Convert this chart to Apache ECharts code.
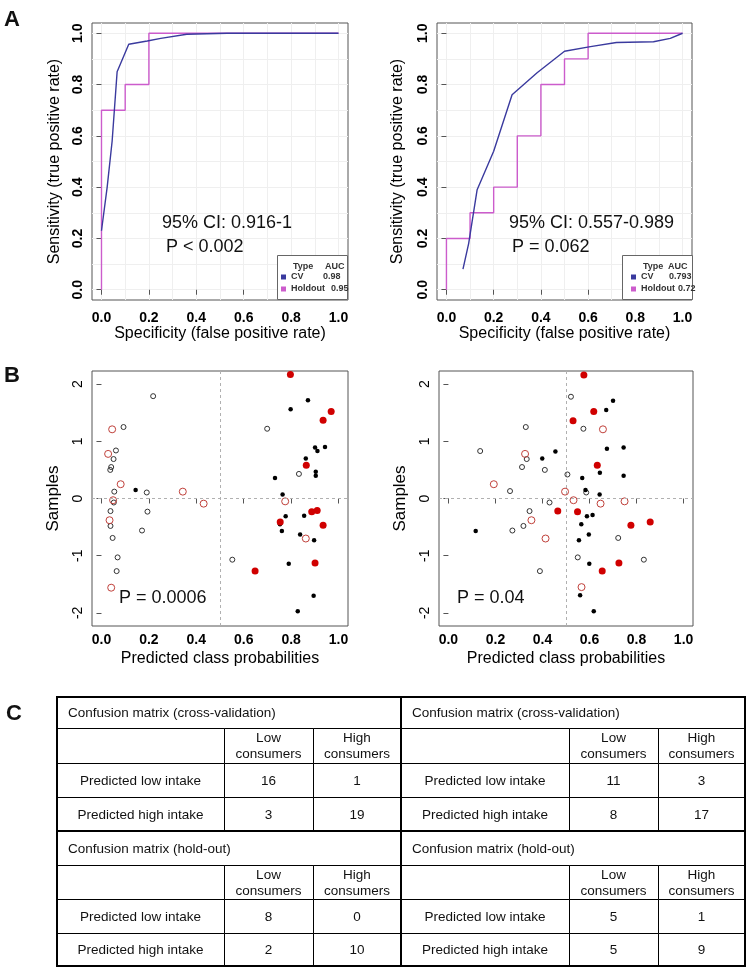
<!DOCTYPE html>
<html>
<head>
<meta charset="utf-8">
<script src="https://cdn.jsdelivr.net/npm/echarts@6/dist/echarts.min.js"></script>
<style>
  html, body { margin: 0; padding: 0; background: #fff; }
  #chart { width: 752px; height: 973px; }
</style>
</head>
<body>
<div id="chart"></div>
<script>
// ---- A: ROC curves, [false positive rate, true positive rate]
var rocCvLeft = [[0, 0.23], [0.024, 0.40], [0.045, 0.58], [0.066, 0.85], [0.115, 0.957], [0.193, 0.97], [0.25, 0.98], [0.36, 0.996], [0.53, 1.0], [1.0, 1.0]];
var rocHoldLeft = [[0, 0], [0, 0.7], [0.1, 0.7], [0.1, 0.8], [0.2, 0.8], [0.2, 1.0], [1.0, 1.0]];
var rocCvRight = [[0.07, 0.08], [0.094, 0.18], [0.13, 0.39], [0.2, 0.54], [0.278, 0.76], [0.384, 0.846], [0.5, 0.93], [0.61, 0.948], [0.72, 0.964], [0.877, 0.967], [0.948, 0.98], [1.0, 1.0]];
var rocHoldRight = [[0, 0], [0, 0.2], [0.1, 0.2], [0.1, 0.3], [0.2, 0.3], [0.2, 0.4], [0.3, 0.4], [0.3, 0.6], [0.4, 0.6], [0.4, 0.8], [0.5, 0.8], [0.5, 0.9], [0.6, 0.9], [0.6, 1.0], [1.0, 1.0]];
var aucLeft = ['0.98', '0.95'];
var aucRight = ['0.793', '0.72'];
var rocTicks = [0, 0.2, 0.4, 0.6, 0.8, 1.0];
var rocGrid = [0, 0.1, 0.2, 0.3, 0.4, 0.5, 0.6, 0.7, 0.8, 0.9, 1.0];

// ---- B: predicted class probability vs sample jitter
var openBlackL = [[0.218, 1.79], [0.093, 1.25], [0.061, 0.84], [0.051, 0.69], [0.041, 0.55], [0.037, 0.50], [0.054, 0.12], [0.191, 0.105], [0.052, -0.07], [0.038, -0.22], [0.194, -0.23], [0.038, -0.48], [0.171, -0.56], [0.047, -0.69], [0.068, -1.03], [0.064, -1.27], [0.699, 1.22], [0.833, 0.43], [0.552, -1.07]];
var openRedL = [[0.045, 1.21], [0.028, 0.78], [0.081, 0.25], [0.049, -0.03], [0.034, -0.38], [0.041, -1.56], [0.343, 0.12], [0.431, -0.09], [0.775, -0.05], [0.862, -0.70]];
var filledBlackL = [[0.144, 0.15], [0.871, 1.72], [0.798, 1.56], [0.901, 0.89], [0.911, 0.83], [0.943, 0.90], [0.862, 0.70], [0.904, 0.47], [0.904, 0.40], [0.732, 0.36], [0.764, 0.07], [0.777, -0.31], [0.855, -0.30], [0.753, -0.45], [0.761, -0.57], [0.838, -0.63], [0.897, -0.73], [0.79, -1.14], [0.895, -1.70], [0.828, -1.97]];
var filledRedL = [[0.797, 2.17], [0.969, 1.52], [0.935, 1.37], [0.864, 0.58], [0.887, -0.23], [0.91, -0.21], [0.754, -0.41], [0.935, -0.47], [0.901, -1.13], [0.648, -1.27]];

var openBlackR = [[0.521, 1.78], [0.329, 1.25], [0.574, 1.22], [0.135, 0.83], [0.333, 0.69], [0.313, 0.55], [0.41, 0.50], [0.506, 0.42], [0.262, 0.13], [0.586, 0.105], [0.43, -0.07], [0.345, -0.22], [0.319, -0.48], [0.272, -0.56], [0.722, -0.69], [0.55, -1.03], [0.831, -1.07], [0.389, -1.27]];
var openRedR = [[0.657, 1.21], [0.326, 0.78], [0.193, 0.25], [0.496, 0.12], [0.532, -0.03], [0.647, -0.09], [0.749, -0.05], [0.353, -0.38], [0.413, -0.70], [0.566, -1.55]];
var filledBlackR = [[0.70, 1.71], [0.671, 1.55], [0.455, 0.82], [0.674, 0.87], [0.745, 0.89], [0.399, 0.70], [0.644, 0.45], [0.745, 0.40], [0.569, 0.36], [0.583, 0.15], [0.643, 0.07], [0.589, -0.31], [0.613, -0.29], [0.565, -0.45], [0.597, -0.63], [0.555, -0.73], [0.116, -0.57], [0.599, -1.14], [0.56, -1.69], [0.618, -1.97]];
var filledRedR = [[0.576, 2.16], [0.618, 1.52], [0.53, 1.36], [0.633, 0.58], [0.465, -0.22], [0.549, -0.23], [0.776, -0.47], [0.858, -0.41], [0.725, -1.13], [0.654, -1.27]];
var probTicks = [0, 0.2, 0.4, 0.6, 0.8, 1.0];
var sampleTicks = [-2, -1, 0, 1, 2];
var cutoffX = 0.5;
var cutoffY = 0;

// ---- C: confusion matrices
var matrixTitles = ['Confusion matrix (cross-validation)', 'Confusion matrix (hold-out)'];
var colLabels = ['Low\nconsumers', 'High\nconsumers'];
var rowLabels = ['Predicted low intake', 'Predicted high intake'];
var cvLeft = [[16, 1], [3, 19]];
var holdLeft = [[8, 0], [2, 10]];
var cvRight = [[11, 3], [8, 17]];
var holdRight = [[5, 1], [5, 9]];

var FONT = '"Liberation Sans", Arial, sans-serif';
var BLUE = '#3a3a9e';
var MAGENTA = '#cc5ccc';

// table layout (px)
var colW = [167, 89, 88, 168, 89, 87];
var rowH = [31, 35, 34, 34, 34, 34, 34, 33];
var colEdge = [0], rowEdge = [0];
colW.forEach(function (w) { colEdge.push(colEdge[colEdge.length - 1] + w); });
rowH.forEach(function (h) { rowEdge.push(rowEdge[rowEdge.length - 1] + h); });

var cells = [];
function addBlock(bx, by, title, m) {
  var c = bx * 3, r = by * 4;
  cells.push({ c0: c, c1: c + 3, r0: r, r1: r + 1, text: title, left: true });
  cells.push({ c0: c, c1: c + 1, r0: r + 1, r1: r + 2, text: '' });
  cells.push({ c0: c + 1, c1: c + 2, r0: r + 1, r1: r + 2, text: colLabels[0] });
  cells.push({ c0: c + 2, c1: c + 3, r0: r + 1, r1: r + 2, text: colLabels[1] });
  for (var i = 0; i < 2; i++) {
    cells.push({ c0: c, c1: c + 1, r0: r + 2 + i, r1: r + 3 + i, text: rowLabels[i] });
    cells.push({ c0: c + 1, c1: c + 2, r0: r + 2 + i, r1: r + 3 + i, text: String(m[i][0]) });
    cells.push({ c0: c + 2, c1: c + 3, r0: r + 2 + i, r1: r + 3 + i, text: String(m[i][1]) });
  }
}
addBlock(0, 0, matrixTitles[0], cvLeft);
addBlock(1, 0, matrixTitles[0], cvRight);
addBlock(0, 1, matrixTitles[1], holdLeft);
addBlock(1, 1, matrixTitles[1], holdRight);
var frames = [[0, 3, 0, 4], [3, 6, 0, 4], [0, 3, 4, 8], [3, 6, 4, 8]];
frames.forEach(function (f) { cells.push({ c0: f[0], c1: f[1], r0: f[2], r1: f[3], frame: true }); });

function renderCell(params, api) {
  var cell = cells[params.dataIndex];
  var p0 = api.coord([api.value(0), api.value(2)]);
  var p1 = api.coord([api.value(1), api.value(3)]);
  var x = Math.round(Math.min(p0[0], p1[0]));
  var y = Math.round(Math.min(p0[1], p1[1]));
  var w = Math.round(Math.abs(p1[0] - p0[0]));
  var h = Math.round(Math.abs(p1[1] - p0[1]));
  if (cell.frame) {
    return { type: 'rect', z2: 20, shape: { x: x, y: y, width: w, height: h },
      style: { fill: 'none', stroke: '#000', lineWidth: 2 } };
  }
  return {
    type: 'group',
    children: [
      { type: 'rect', shape: { x: x + 0.5, y: y + 0.5, width: w, height: h },
        style: { fill: '#fff', stroke: '#000', lineWidth: 1 } },
      { type: 'text', z2: 5, style: {
          text: cell.text,
          x: cell.left ? x + 11 : x + w / 2,
          y: y + h / 2 + 1,
          align: cell.left ? 'left' : 'center',
          verticalAlign: 'middle',
          fontFamily: FONT, fontSize: 13.5, lineHeight: 16, fill: '#111'
        } }
    ]
  };
}

function mainAxis(gridIndex, min, max, ticks, name, nameGap, labelWeight, margin, digits, isY) {
  var ax = {
    type: 'value', gridIndex: gridIndex, min: min, max: max,
    position: isY ? 'left' : 'bottom',
    axisLine: { show: false },
    axisTick: { show: true, length: 5, lineStyle: { color: '#555' }, customValues: ticks },
    axisLabel: {
      customValues: ticks, margin: margin, color: '#000', fontFamily: FONT,
      fontSize: 14, fontWeight: labelWeight,
      formatter: function (v) { return digits ? v.toFixed(1) : String(Math.round(v)); }
    },
    splitLine: { show: false },
    name: name, nameLocation: 'middle', nameGap: nameGap,
    nameTextStyle: { color: '#000', fontFamily: FONT, fontSize: isY && !digits ? 17 : 16 }
  };
  if (isY) { ax.axisLabel.rotate = 90; ax.nameRotate = 90; }
  return ax;
}
function gridAxis(gridIndex, isY) {
  return {
    type: 'value', gridIndex: gridIndex, min: -0.04, max: 1.04,
    position: isY ? 'left' : 'bottom',
    axisLine: { show: false },
    axisTick: { show: false, customValues: rocGrid },
    axisLabel: { show: false, customValues: rocGrid },
    splitLine: { show: true, lineStyle: { color: '#efefef', width: 1 } }
  };
}

function rocSeries(name, data, color, xi, z) {
  return { type: 'line', name: name, data: data, xAxisIndex: xi, yAxisIndex: xi,
    showSymbol: false, symbol: 'none', silent: true, z: z,
    lineStyle: { color: color, width: 1.4 }, itemStyle: { color: color } };
}
function dots(data, xi, size, fill, stroke, marks) {
  var s = { type: 'scatter', data: data, xAxisIndex: xi, yAxisIndex: xi, symbol: 'circle',
    symbolSize: size, silent: true,
    itemStyle: { color: fill, borderColor: stroke, borderWidth: stroke ? 1 : 0, opacity: 1 } };
  if (marks) {
    s.markLine = { silent: true, symbol: 'none', label: { show: false },
      lineStyle: { color: '#b0b0b0', type: [3, 3], width: 1 },
      data: [{ xAxis: cutoffX }, { yAxis: cutoffY }] };
  }
  return s;
}
var legendText = { fontFamily: FONT, fontWeight: 'bold', fontSize: 9, color: '#333' };
function legendFor(left, auc, wc, wh) {
  return {
    left: left, top: 271, orient: 'vertical', itemWidth: 5, itemHeight: 5, itemGap: 0,
    icon: 'rect', selectedMode: false, z: 60, padding: 0,
    data: ['CV', 'Holdout'],
    formatter: function (n) {
      return (n === 'CV' ? '{c|CV}{v|' + auc[0] + '}' : '{h|Holdout}{v|' + auc[1] + '}');
    },
    textStyle: Object.assign({
      lineHeight: 12,
      rich: {
        c: Object.assign({ width: wc }, legendText),
        h: Object.assign({ width: wh }, legendText),
        v: Object.assign({}, legendText)
      }
    }, legendText)
  };
}

function txt(x, y, s, size, weight) {
  return { type: 'text', x: x, y: y, z: 55, silent: true,
    style: { text: s, fontFamily: FONT, fontSize: size, fontWeight: weight || 'normal',
      fill: '#111', verticalAlign: 'middle', align: 'left' } };
}
function legendBox(x, w, typeX, aucX) {
  return [
    { type: 'rect', z: 50, silent: true, shape: { x: x + 0.5, y: 255.5, width: w, height: 44 },
      style: { fill: '#fff', stroke: '#666', lineWidth: 1 } },
    { type: 'text', z: 55, x: typeX, y: 267, silent: true,
      style: { text: 'Type', font: 'bold 9px "Liberation Sans", Arial, sans-serif', fill: '#333', verticalAlign: 'middle' } },
    { type: 'text', z: 55, x: aucX, y: 267, silent: true,
      style: { text: 'AUC', font: 'bold 9px "Liberation Sans", Arial, sans-serif', fill: '#333', verticalAlign: 'middle' } }
  ];
}

var frameGrid = { show: true, borderColor: '#555', borderWidth: 1, backgroundColor: 'rgba(0,0,0,0)', outerBoundsMode: 'none', containLabel: false };
function g(l, t, w, h) { return Object.assign({ left: l, top: t, width: w, height: h }, frameGrid); }

var chart = echarts.init(document.getElementById('chart'));
chart.setOption({
  animation: false,
  backgroundColor: '#fff',
  textStyle: { fontFamily: FONT },
  grid: [
    g(92, 23, 256, 277),
    g(437, 23, 255, 277),
    g(92, 371, 256, 255),
    g(439, 371, 254, 255),
    { left: 57, top: 697, width: 688, height: 269, show: false, outerBoundsMode: 'none' }
  ],
  xAxis: [
    mainAxis(0, -0.04, 1.04, rocTicks, 'Specificity (false positive rate)', 25, 'bold', 11, true, false),
    gridAxis(0, false),
    mainAxis(1, -0.04, 1.04, rocTicks, 'Specificity (false positive rate)', 25, 'bold', 11, true, false),
    gridAxis(1, false),
    mainAxis(2, -0.04, 1.04, probTicks, 'Predicted class probabilities', 25, 'bold', 7, true, false),
    mainAxis(3, -0.04, 1.04, probTicks, 'Predicted class probabilities', 25, 'bold', 7, true, false),
    { type: 'value', gridIndex: 4, min: 0, max: colEdge[colEdge.length - 1], show: false }
  ],
  yAxis: [
    mainAxis(0, -0.04, 1.04, rocTicks, 'Sensitivity (true positive rate)', 29, 'bold', 7, true, true),
    gridAxis(0, true),
    mainAxis(1, -0.04, 1.04, rocTicks, 'Sensitivity (true positive rate)', 31, 'bold', 7, true, true),
    gridAxis(1, true),
    mainAxis(2, -2.23, 2.23, sampleTicks, 'Samples', 30, 'normal', 7, false, true),
    mainAxis(3, -2.23, 2.23, sampleTicks, 'Samples', 30, 'normal', 7, false, true),
    { type: 'value', gridIndex: 4, min: 0, max: rowEdge[rowEdge.length - 1], inverse: true, show: false }
  ],
  legend: [legendFor(281, aucLeft, 32, 40), legendFor(631, aucRight, 28, 37)],
  series: [
    rocSeries('Holdout', rocHoldLeft, MAGENTA, 0, 2),
    rocSeries('CV', rocCvLeft, BLUE, 0, 3),
    rocSeries('Holdout', rocHoldRight, MAGENTA, 2, 2),
    rocSeries('CV', rocCvRight, BLUE, 2, 3),
    dots(openBlackL, 4, 5, 'rgba(0,0,0,0)', '#333', true),
    dots(openRedL, 4, 7, 'rgba(0,0,0,0)', '#c0403a'),
    dots(filledBlackL, 4, 4.5, '#000', null),
    dots(filledRedL, 4, 7, '#d00000', null),
    dots(openBlackR, 5, 5, 'rgba(0,0,0,0)', '#333', true),
    dots(openRedR, 5, 7, 'rgba(0,0,0,0)', '#c0403a'),
    dots(filledBlackR, 5, 4.5, '#000', null),
    dots(filledRedR, 5, 7, '#d00000', null),
    {
      type: 'custom', xAxisIndex: 6, yAxisIndex: 6, silent: true, clip: false,
      encode: { x: [0, 1], y: [2, 3] },
      renderItem: renderCell,
      data: cells.map(function (c) { return [colEdge[c.c0], colEdge[c.c1], rowEdge[c.r0], rowEdge[c.r1]]; })
    }
  ],
  graphic: {
    elements: [
      txt(4, 20, 'A', 22, 'bold'),
      txt(4, 376, 'B', 22, 'bold'),
      txt(6, 714, 'C', 22, 'bold'),
      txt(162, 223, '95% CI: 0.916-1', 18),
      txt(166, 247, 'P < 0.002', 18),
      txt(509, 223, '95% CI: 0.557-0.989', 18),
      txt(512, 247, 'P = 0.062', 18),
      txt(119, 598, 'P = 0.0006', 18),
      txt(457, 598, 'P = 0.04', 18)
    ].concat(legendBox(277, 70, 293, 325)).concat(legendBox(622, 70, 643, 668))
  }
});
</script>
</body>
</html>
